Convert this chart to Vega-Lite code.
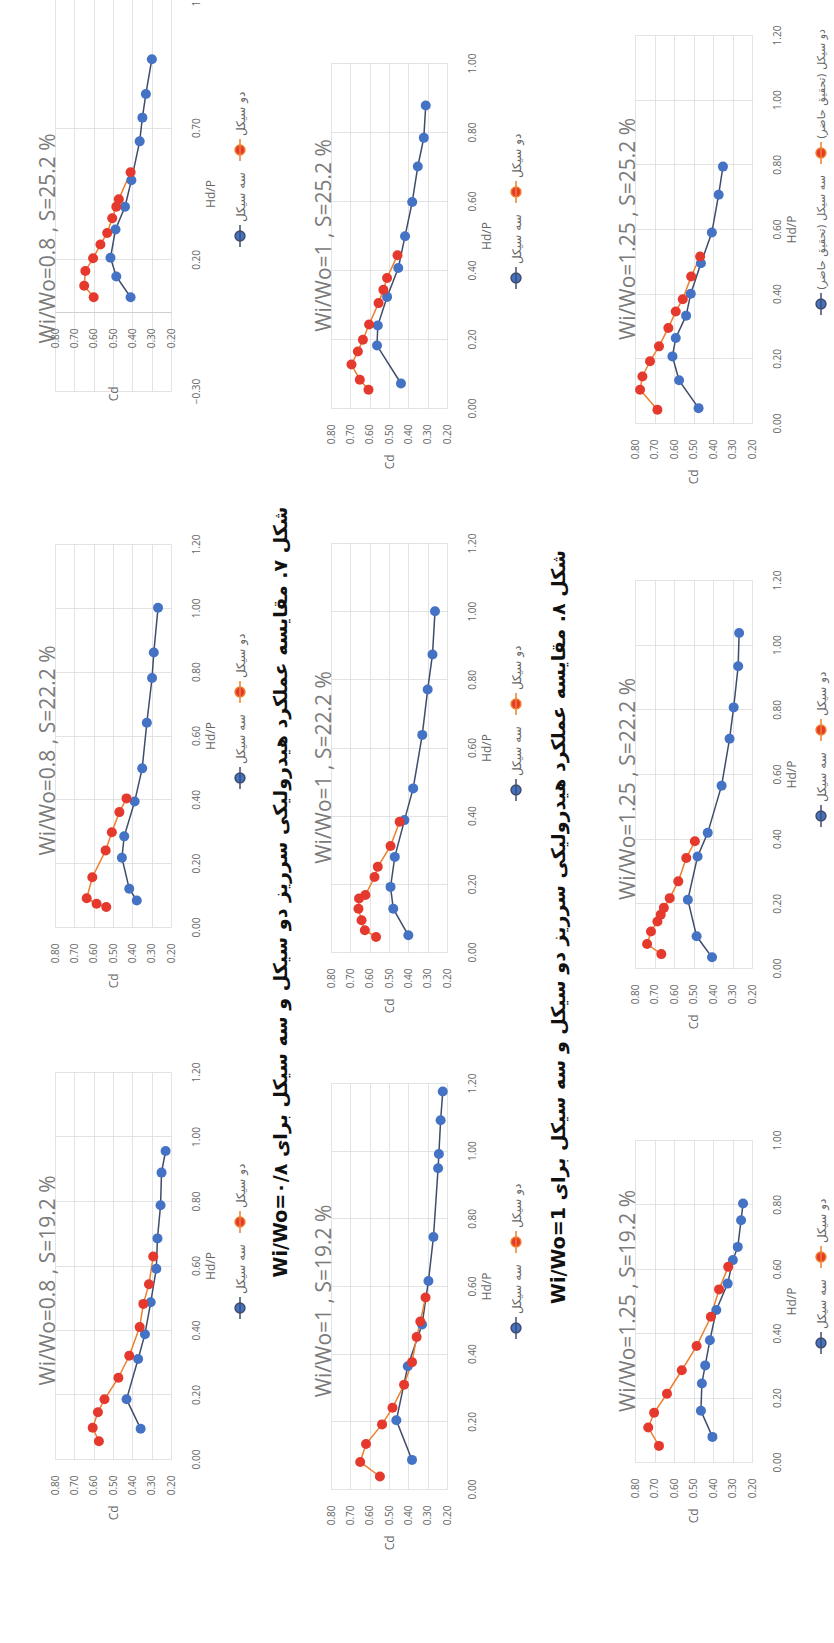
{
  "$schema": "https://vega.github.io/schema/vega-lite/v6.json",
  "background": "white",
  "padding": {"left": 37, "top": -14, "right": 10, "bottom": 0},
  "spacing": 0,
  "resolve": {"scale": {"fill": "independent"}, "legend": {"fill": "independent"}},
  "datasets": {
    "A1": [
      {"s": "سه سیکل", "hp": 0.056, "cd": 0.409}, {"s": "سه سیکل", "hp": 0.135, "cd": 0.483}, {"s": "سه سیکل", "hp": 0.206, "cd": 0.513}, {"s": "سه سیکل", "hp": 0.313, "cd": 0.487}, {"s": "سه سیکل", "hp": 0.40, "cd": 0.438}, {"s": "سه سیکل", "hp": 0.50, "cd": 0.405}, {"s": "سه سیکل", "hp": 0.648, "cd": 0.362}, {"s": "سه سیکل", "hp": 0.738, "cd": 0.348}, {"s": "سه سیکل", "hp": 0.828, "cd": 0.330}, {"s": "سه سیکل", "hp": 0.96, "cd": 0.299},
      {"s": "دو سیکل", "hp": 0.056, "cd": 0.60}, {"s": "دو سیکل", "hp": 0.10, "cd": 0.649}, {"s": "دو سیکل", "hp": 0.156, "cd": 0.643}, {"s": "دو سیکل", "hp": 0.204, "cd": 0.603}, {"s": "دو سیکل", "hp": 0.256, "cd": 0.565}, {"s": "دو سیکل", "hp": 0.30, "cd": 0.53}, {"s": "دو سیکل", "hp": 0.356, "cd": 0.504}, {"s": "دو سیکل", "hp": 0.40, "cd": 0.483}, {"s": "دو سیکل", "hp": 0.428, "cd": 0.47}, {"s": "دو سیکل", "hp": 0.531, "cd": 0.409}
    ],
    "A2": [
      {"s": "سه سیکل", "hp": 0.083, "cd": 0.377}, {"s": "سه سیکل", "hp": 0.12, "cd": 0.416}, {"s": "سه سیکل", "hp": 0.217, "cd": 0.454}, {"s": "سه سیکل", "hp": 0.284, "cd": 0.442}, {"s": "سه سیکل", "hp": 0.393, "cd": 0.388}, {"s": "سه سیکل", "hp": 0.497, "cd": 0.349}, {"s": "سه سیکل", "hp": 0.64, "cd": 0.325}, {"s": "سه سیکل", "hp": 0.78, "cd": 0.298}, {"s": "سه سیکل", "hp": 0.86, "cd": 0.289}, {"s": "سه سیکل", "hp": 1.0, "cd": 0.267},
      {"s": "دو سیکل", "hp": 0.0625, "cd": 0.535}, {"s": "دو سیکل", "hp": 0.073, "cd": 0.585}, {"s": "دو سیکل", "hp": 0.09, "cd": 0.636}, {"s": "دو سیکل", "hp": 0.156, "cd": 0.607}, {"s": "دو سیکل", "hp": 0.24, "cd": 0.538}, {"s": "دو سیکل", "hp": 0.297, "cd": 0.506}, {"s": "دو سیکل", "hp": 0.36, "cd": 0.467}, {"s": "دو سیکل", "hp": 0.403, "cd": 0.43}
    ],
    "A3": [
      {"s": "سه سیکل", "hp": 0.094, "cd": 0.357}, {"s": "سه سیکل", "hp": 0.185, "cd": 0.43}, {"s": "سه سیکل", "hp": 0.31, "cd": 0.37}, {"s": "سه سیکل", "hp": 0.387, "cd": 0.335}, {"s": "سه سیکل", "hp": 0.486, "cd": 0.305}, {"s": "سه سیکل", "hp": 0.59, "cd": 0.276}, {"s": "سه سیکل", "hp": 0.684, "cd": 0.27}, {"s": "سه سیکل", "hp": 0.787, "cd": 0.254}, {"s": "سه سیکل", "hp": 0.888, "cd": 0.249}, {"s": "سه سیکل", "hp": 0.955, "cd": 0.228},
      {"s": "دو سیکل", "hp": 0.055, "cd": 0.573}, {"s": "دو سیکل", "hp": 0.097, "cd": 0.605}, {"s": "دو سیکل", "hp": 0.145, "cd": 0.578}, {"s": "دو سیکل", "hp": 0.185, "cd": 0.544}, {"s": "دو سیکل", "hp": 0.252, "cd": 0.472}, {"s": "دو سیکل", "hp": 0.32, "cd": 0.416}, {"s": "دو سیکل", "hp": 0.409, "cd": 0.362}, {"s": "دو سیکل", "hp": 0.481, "cd": 0.343}, {"s": "دو سیکل", "hp": 0.542, "cd": 0.314}, {"s": "دو سیکل", "hp": 0.628, "cd": 0.292}
    ],
    "B1": [
      {"s": "سه سیکل", "hp": 0.071, "cd": 0.438}, {"s": "سه سیکل", "hp": 0.181, "cd": 0.562}, {"s": "سه سیکل", "hp": 0.239, "cd": 0.558}, {"s": "سه سیکل", "hp": 0.322, "cd": 0.51}, {"s": "سه سیکل", "hp": 0.406, "cd": 0.452}, {"s": "سه سیکل", "hp": 0.498, "cd": 0.417}, {"s": "سه سیکل", "hp": 0.597, "cd": 0.38}, {"s": "سه سیکل", "hp": 0.70, "cd": 0.351}, {"s": "سه سیکل", "hp": 0.783, "cd": 0.32}, {"s": "سه سیکل", "hp": 0.877, "cd": 0.31},
      {"s": "دو سیکل", "hp": 0.053, "cd": 0.606}, {"s": "دو سیکل", "hp": 0.082, "cd": 0.651}, {"s": "دو سیکل", "hp": 0.126, "cd": 0.694}, {"s": "دو سیکل", "hp": 0.164, "cd": 0.661}, {"s": "دو سیکل", "hp": 0.198, "cd": 0.635}, {"s": "دو سیکل", "hp": 0.242, "cd": 0.603}, {"s": "دو سیکل", "hp": 0.304, "cd": 0.554}, {"s": "دو سیکل", "hp": 0.343, "cd": 0.529}, {"s": "دو سیکل", "hp": 0.377, "cd": 0.51}, {"s": "دو سیکل", "hp": 0.443, "cd": 0.456}
    ],
    "B2": [
      {"s": "سه سیکل", "hp": 0.049, "cd": 0.40}, {"s": "سه سیکل", "hp": 0.127, "cd": 0.478}, {"s": "سه سیکل", "hp": 0.191, "cd": 0.492}, {"s": "سه سیکل", "hp": 0.279, "cd": 0.47}, {"s": "سه سیکل", "hp": 0.387, "cd": 0.42}, {"s": "سه سیکل", "hp": 0.48, "cd": 0.375}, {"s": "سه سیکل", "hp": 0.637, "cd": 0.328}, {"s": "سه سیکل", "hp": 0.77, "cd": 0.30}, {"s": "سه سیکل", "hp": 0.873, "cd": 0.275}, {"s": "سه سیکل", "hp": 1.0, "cd": 0.262},
      {"s": "دو سیکل", "hp": 0.044, "cd": 0.567}, {"s": "دو سیکل", "hp": 0.064, "cd": 0.625}, {"s": "دو سیکل", "hp": 0.093, "cd": 0.642}, {"s": "دو سیکل", "hp": 0.127, "cd": 0.658}, {"s": "دو سیکل", "hp": 0.157, "cd": 0.655}, {"s": "دو سیکل", "hp": 0.167, "cd": 0.622}, {"s": "دو سیکل", "hp": 0.22, "cd": 0.575}, {"s": "دو سیکل", "hp": 0.25, "cd": 0.558}, {"s": "دو سیکل", "hp": 0.311, "cd": 0.492}, {"s": "دو سیکل", "hp": 0.382, "cd": 0.445}
    ],
    "B3": [
      {"s": "سه سیکل", "hp": 0.086, "cd": 0.381}, {"s": "سه سیکل", "hp": 0.203, "cd": 0.462}, {"s": "سه سیکل", "hp": 0.363, "cd": 0.403}, {"s": "سه سیکل", "hp": 0.486, "cd": 0.329}, {"s": "سه سیکل", "hp": 0.615, "cd": 0.296}, {"s": "سه سیکل", "hp": 0.745, "cd": 0.27}, {"s": "سه سیکل", "hp": 0.948, "cd": 0.246}, {"s": "سه سیکل", "hp": 0.99, "cd": 0.242}, {"s": "سه سیکل", "hp": 1.09, "cd": 0.233}, {"s": "سه سیکل", "hp": 1.175, "cd": 0.222},
      {"s": "دو سیکل", "hp": 0.037, "cd": 0.547}, {"s": "دو سیکل", "hp": 0.08, "cd": 0.649}, {"s": "دو سیکل", "hp": 0.133, "cd": 0.619}, {"s": "دو سیکل", "hp": 0.191, "cd": 0.536}, {"s": "دو سیکل", "hp": 0.24, "cd": 0.482}, {"s": "دو سیکل", "hp": 0.308, "cd": 0.422}, {"s": "دو سیکل", "hp": 0.375, "cd": 0.381}, {"s": "دو سیکل", "hp": 0.449, "cd": 0.357}, {"s": "دو سیکل", "hp": 0.495, "cd": 0.338}, {"s": "دو سیکل", "hp": 0.566, "cd": 0.311}
    ],
    "C1": [
      {"s": "سه سیکل (تحقیق حاضر)", "hp": 0.046, "cd": 0.474}, {"s": "سه سیکل (تحقیق حاضر)", "hp": 0.132, "cd": 0.574}, {"s": "سه سیکل (تحقیق حاضر)", "hp": 0.206, "cd": 0.608}, {"s": "سه سیکل (تحقیق حاضر)", "hp": 0.263, "cd": 0.591}, {"s": "سه سیکل (تحقیق حاضر)", "hp": 0.332, "cd": 0.538}, {"s": "سه سیکل (تحقیق حاضر)", "hp": 0.40, "cd": 0.514}, {"s": "سه سیکل (تحقیق حاضر)", "hp": 0.494, "cd": 0.462}, {"s": "سه سیکل (تحقیق حاضر)", "hp": 0.589, "cd": 0.406}, {"s": "سه سیکل (تحقیق حاضر)", "hp": 0.706, "cd": 0.371}, {"s": "سه سیکل (تحقیق حاضر)", "hp": 0.793, "cd": 0.349},
      {"s": "دو سیکل (تحقیق حاضر)", "hp": 0.041, "cd": 0.685}, {"s": "دو سیکل (تحقیق حاضر)", "hp": 0.103, "cd": 0.774}, {"s": "دو سیکل (تحقیق حاضر)", "hp": 0.144, "cd": 0.762}, {"s": "دو سیکل (تحقیق حاضر)", "hp": 0.191, "cd": 0.723}, {"s": "دو سیکل (تحقیق حاضر)", "hp": 0.237, "cd": 0.677}, {"s": "دو سیکل (تحقیق حاضر)", "hp": 0.294, "cd": 0.629}, {"s": "دو سیکل (تحقیق حاضر)", "hp": 0.345, "cd": 0.591}, {"s": "دو سیکل (تحقیق حاضر)", "hp": 0.383, "cd": 0.555}, {"s": "دو سیکل (تحقیق حاضر)", "hp": 0.453, "cd": 0.512}, {"s": "دو سیکل (تحقیق حاضر)", "hp": 0.515, "cd": 0.466}
    ],
    "C2": [
      {"s": "سه سیکل", "hp": 0.033, "cd": 0.405}, {"s": "سه سیکل", "hp": 0.098, "cd": 0.484}, {"s": "سه سیکل", "hp": 0.211, "cd": 0.529}, {"s": "سه سیکل", "hp": 0.345, "cd": 0.479}, {"s": "سه سیکل", "hp": 0.418, "cd": 0.427}, {"s": "سه سیکل", "hp": 0.564, "cd": 0.356}, {"s": "سه سیکل", "hp": 0.709, "cd": 0.315}, {"s": "سه سیکل", "hp": 0.806, "cd": 0.294}, {"s": "سه سیکل", "hp": 0.933, "cd": 0.271}, {"s": "سه سیکل", "hp": 1.036, "cd": 0.266},
      {"s": "دو سیکل", "hp": 0.043, "cd": 0.665}, {"s": "دو سیکل", "hp": 0.074, "cd": 0.738}, {"s": "دو سیکل", "hp": 0.113, "cd": 0.718}, {"s": "دو سیکل", "hp": 0.144, "cd": 0.685}, {"s": "دو سیکل", "hp": 0.165, "cd": 0.668}, {"s": "دو سیکل", "hp": 0.186, "cd": 0.652}, {"s": "دو سیکل", "hp": 0.216, "cd": 0.622}, {"s": "دو سیکل", "hp": 0.268, "cd": 0.578}, {"s": "دو سیکل", "hp": 0.34, "cd": 0.537}, {"s": "دو سیکل", "hp": 0.392, "cd": 0.493}
    ],
    "C3": [
      {"s": "سه سیکل", "hp": 0.078, "cd": 0.403}, {"s": "سه سیکل", "hp": 0.159, "cd": 0.462}, {"s": "سه سیکل", "hp": 0.244, "cd": 0.457}, {"s": "سه سیکل", "hp": 0.30, "cd": 0.44}, {"s": "سه سیکل", "hp": 0.378, "cd": 0.416}, {"s": "سه سیکل", "hp": 0.472, "cd": 0.383}, {"s": "سه سیکل", "hp": 0.554, "cd": 0.325}, {"s": "سه سیکل", "hp": 0.627, "cd": 0.298}, {"s": "سه سیکل", "hp": 0.668, "cd": 0.273}, {"s": "سه سیکل", "hp": 0.751, "cd": 0.256}, {"s": "سه سیکل", "hp": 0.803, "cd": 0.246},
      {"s": "دو سیکل", "hp": 0.05, "cd": 0.677}, {"s": "دو سیکل", "hp": 0.107, "cd": 0.732}, {"s": "دو سیکل", "hp": 0.153, "cd": 0.702}, {"s": "دو سیکل", "hp": 0.212, "cd": 0.636}, {"s": "دو سیکل", "hp": 0.285, "cd": 0.56}, {"s": "دو سیکل", "hp": 0.36, "cd": 0.484}, {"s": "دو سیکل", "hp": 0.451, "cd": 0.411}, {"s": "دو سیکل", "hp": 0.536, "cd": 0.369}, {"s": "دو سیکل", "hp": 0.606, "cd": 0.322}
    ]
  },
  "hconcat": [
    {
      "bounds": "flush", "spacing": 0,
      "resolve": {"scale": {"fill": "independent"}, "legend": {"fill": "independent"}},
      "vconcat": [
        {
          "width": 116, "height": 395, "data": {"name": "A1"},
          "title": {"text": "Wi/Wo=0.8 , S=25.2 %", "dx": -45},
          "encoding": {
            "x": {"field": "cd", "type": "quantitative", "scale": {"domain": [0.2, 0.8], "reverse": true, "nice": false, "zero": false}, "axis": {"values": [0.2, 0.3, 0.4, 0.5, 0.6, 0.7, 0.8], "format": ".2f", "title": "Cd", "offset": -79, "titlePadding": 38, "domain": true, "domainColor": "#d0d0d0"}},
            "y": {"field": "hp", "type": "quantitative", "scale": {"domain": [-0.3, 1.2], "nice": false, "zero": false}, "axis": {"orient": "right", "values": [-0.3, 0.2, 0.7, 1.2], "format": ".2f", "title": "Hd/P"}}
          },
          "layer": [
            {"transform": [{"filter": {"field": "s", "oneOf": ["سه سیکل", "سه سیکل (تحقیق حاضر)"]}}], "mark": {"type": "line", "color": "#3F4C6B"}, "encoding": {"order": {"field": "hp", "type": "quantitative"}}},
            {"transform": [{"filter": {"field": "s", "oneOf": ["دو سیکل", "دو سیکل (تحقیق حاضر)"]}}], "mark": {"type": "line", "color": "#EE7F2D"}, "encoding": {"order": {"field": "hp", "type": "quantitative"}}},
            {"mark": "point", "encoding": {"fill": {"field": "s", "type": "nominal", "scale": {"domain": ["دو سیکل", "سه سیکل"], "range": ["#E5392E", "#4472C4"]}, "legend": {"title": null, "orient": "right", "direction": "vertical", "offset": 12, "symbolType": "M0,-1L0,1M0.45,0A0.45,0.45,0,1,1,-0.45,0A0.45,0.45,0,1,1,0.45,0", "symbolSize": 480, "symbolStrokeWidth": 1.5, "labelFont": "DejaVu Sans", "labelFontSize": 12, "labelColor": "#666666", "labelOffset": -11, "rowPadding": 8, "encoding": {"labels": {"angle": {"value": -90}, "align": {"value": "left"}, "baseline": {"value": "middle"}, "dx": {"value": 14}}, "symbols": {"stroke": {"condition": {"test": "datum.value === 'دو سیکل' || datum.value === 'دو سیکل (تحقیق حاضر)'", "value": "#EE7F2D"}, "value": "#3F4C6B"}}}}}}}
          ]
        },
        {"width": 1, "height": 153, "data": {"values": []}, "mark": "point", "encoding": {}},
        {
          "width": 116, "height": 383, "data": {"name": "A2"},
          "title": {"text": "Wi/Wo=0.8 , S=22.2 %", "dx": -15},
          "encoding": {
            "x": {"field": "cd", "type": "quantitative", "scale": {"domain": [0.2, 0.8], "reverse": true, "nice": false, "zero": false}, "axis": {"values": [0.2, 0.3, 0.4, 0.5, 0.6, 0.7, 0.8], "format": ".2f", "title": "Cd"}},
            "y": {"field": "hp", "type": "quantitative", "scale": {"domain": [0, 1.2], "nice": false, "zero": false}, "axis": {"orient": "right", "values": [0, 0.2, 0.4, 0.6, 0.8, 1.0, 1.2], "format": ".2f", "title": "Hd/P"}}
          },
          "layer": [
            {"transform": [{"filter": {"field": "s", "oneOf": ["سه سیکل", "سه سیکل (تحقیق حاضر)"]}}], "mark": {"type": "line", "color": "#3F4C6B"}, "encoding": {"order": {"field": "hp", "type": "quantitative"}}},
            {"transform": [{"filter": {"field": "s", "oneOf": ["دو سیکل", "دو سیکل (تحقیق حاضر)"]}}], "mark": {"type": "line", "color": "#EE7F2D"}, "encoding": {"order": {"field": "hp", "type": "quantitative"}}},
            {"mark": "point", "encoding": {"fill": {"field": "s", "type": "nominal", "scale": {"domain": ["دو سیکل", "سه سیکل"], "range": ["#E5392E", "#4472C4"]}, "legend": {"title": null, "orient": "right", "direction": "vertical", "offset": 12, "symbolType": "M0,-1L0,1M0.45,0A0.45,0.45,0,1,1,-0.45,0A0.45,0.45,0,1,1,0.45,0", "symbolSize": 480, "symbolStrokeWidth": 1.5, "labelFont": "DejaVu Sans", "labelFontSize": 12, "labelColor": "#666666", "labelOffset": -11, "rowPadding": 8, "encoding": {"labels": {"angle": {"value": -90}, "align": {"value": "left"}, "baseline": {"value": "middle"}, "dx": {"value": 14}}, "symbols": {"stroke": {"condition": {"test": "datum.value === 'دو سیکل' || datum.value === 'دو سیکل (تحقیق حاضر)'", "value": "#EE7F2D"}, "value": "#3F4C6B"}}}}}}}
          ]
        },
        {"width": 1, "height": 145, "data": {"values": []}, "mark": "point", "encoding": {}},
        {
          "width": 116, "height": 387, "data": {"name": "A3"},
          "title": {"text": "Wi/Wo=0.8 , S=19.2 %", "dx": -15},
          "encoding": {
            "x": {"field": "cd", "type": "quantitative", "scale": {"domain": [0.2, 0.8], "reverse": true, "nice": false, "zero": false}, "axis": {"values": [0.2, 0.3, 0.4, 0.5, 0.6, 0.7, 0.8], "format": ".2f", "title": "Cd"}},
            "y": {"field": "hp", "type": "quantitative", "scale": {"domain": [0, 1.2], "nice": false, "zero": false}, "axis": {"orient": "right", "values": [0, 0.2, 0.4, 0.6, 0.8, 1.0, 1.2], "format": ".2f", "title": "Hd/P"}}
          },
          "layer": [
            {"transform": [{"filter": {"field": "s", "oneOf": ["سه سیکل", "سه سیکل (تحقیق حاضر)"]}}], "mark": {"type": "line", "color": "#3F4C6B"}, "encoding": {"order": {"field": "hp", "type": "quantitative"}}},
            {"transform": [{"filter": {"field": "s", "oneOf": ["دو سیکل", "دو سیکل (تحقیق حاضر)"]}}], "mark": {"type": "line", "color": "#EE7F2D"}, "encoding": {"order": {"field": "hp", "type": "quantitative"}}},
            {"mark": "point", "encoding": {"fill": {"field": "s", "type": "nominal", "scale": {"domain": ["دو سیکل", "سه سیکل"], "range": ["#E5392E", "#4472C4"]}, "legend": {"title": null, "orient": "right", "direction": "vertical", "offset": 12, "symbolType": "M0,-1L0,1M0.45,0A0.45,0.45,0,1,1,-0.45,0A0.45,0.45,0,1,1,0.45,0", "symbolSize": 480, "symbolStrokeWidth": 1.5, "labelFont": "DejaVu Sans", "labelFontSize": 12, "labelColor": "#666666", "labelOffset": -11, "rowPadding": 8, "encoding": {"labels": {"angle": {"value": -90}, "align": {"value": "left"}, "baseline": {"value": "middle"}, "dx": {"value": 14}}, "symbols": {"stroke": {"condition": {"test": "datum.value === 'دو سیکل' || datum.value === 'دو سیکل (تحقیق حاضر)'", "value": "#EE7F2D"}, "value": "#3F4C6B"}}}}}}}
          ]
        }
      ]
    },
    {
      "width": 65, "height": 1792,
      "data": {"values": [{"t": "Wi/Wo=۰/۸ شکل ۷. مقایسه عملکرد هیدرولیکی سرریز دو سیکل و سه سیکل برای"}]},
      "mark": {"type": "text", "angle": -90, "font": "DejaVu Sans", "fontSize": 19, "fontWeight": "bold", "color": "#111111"},
      "encoding": {"text": {"field": "t", "type": "nominal"}}
    },
    {
      "bounds": "flush", "spacing": 0,
      "resolve": {"scale": {"fill": "independent"}, "legend": {"fill": "independent"}},
      "vconcat": [
        {"width": 1, "height": 67, "data": {"values": []}, "mark": "point", "encoding": {}},
        {
          "width": 116, "height": 345, "data": {"name": "B1"},
          "title": {"text": "Wi/Wo=1 , S=25.2 %"},
          "encoding": {
            "x": {"field": "cd", "type": "quantitative", "scale": {"domain": [0.2, 0.8], "reverse": true, "nice": false, "zero": false}, "axis": {"values": [0.2, 0.3, 0.4, 0.5, 0.6, 0.7, 0.8], "format": ".2f", "title": "Cd"}},
            "y": {"field": "hp", "type": "quantitative", "scale": {"domain": [0, 1.0], "nice": false, "zero": false}, "axis": {"orient": "right", "values": [0, 0.2, 0.4, 0.6, 0.8, 1.0], "format": ".2f", "title": "Hd/P"}}
          },
          "layer": [
            {"transform": [{"filter": {"field": "s", "oneOf": ["سه سیکل", "سه سیکل (تحقیق حاضر)"]}}], "mark": {"type": "line", "color": "#3F4C6B"}, "encoding": {"order": {"field": "hp", "type": "quantitative"}}},
            {"transform": [{"filter": {"field": "s", "oneOf": ["دو سیکل", "دو سیکل (تحقیق حاضر)"]}}], "mark": {"type": "line", "color": "#EE7F2D"}, "encoding": {"order": {"field": "hp", "type": "quantitative"}}},
            {"mark": "point", "encoding": {"fill": {"field": "s", "type": "nominal", "scale": {"domain": ["دو سیکل", "سه سیکل"], "range": ["#E5392E", "#4472C4"]}, "legend": {"title": null, "orient": "right", "direction": "vertical", "offset": 12, "symbolType": "M0,-1L0,1M0.45,0A0.45,0.45,0,1,1,-0.45,0A0.45,0.45,0,1,1,0.45,0", "symbolSize": 480, "symbolStrokeWidth": 1.5, "labelFont": "DejaVu Sans", "labelFontSize": 12, "labelColor": "#666666", "labelOffset": -11, "rowPadding": 8, "encoding": {"labels": {"angle": {"value": -90}, "align": {"value": "left"}, "baseline": {"value": "middle"}, "dx": {"value": 14}}, "symbols": {"stroke": {"condition": {"test": "datum.value === 'دو سیکل' || datum.value === 'دو سیکل (تحقیق حاضر)'", "value": "#EE7F2D"}, "value": "#3F4C6B"}}}}}}}
          ]
        },
        {"width": 1, "height": 135, "data": {"values": []}, "mark": "point", "encoding": {}},
        {
          "width": 116, "height": 409, "data": {"name": "B2"},
          "title": {"text": "Wi/Wo=1 , S=22.2 %", "dx": -20},
          "encoding": {
            "x": {"field": "cd", "type": "quantitative", "scale": {"domain": [0.2, 0.8], "reverse": true, "nice": false, "zero": false}, "axis": {"values": [0.2, 0.3, 0.4, 0.5, 0.6, 0.7, 0.8], "format": ".2f", "title": "Cd"}},
            "y": {"field": "hp", "type": "quantitative", "scale": {"domain": [0, 1.2], "nice": false, "zero": false}, "axis": {"orient": "right", "values": [0, 0.2, 0.4, 0.6, 0.8, 1.0, 1.2], "format": ".2f", "title": "Hd/P"}}
          },
          "layer": [
            {"transform": [{"filter": {"field": "s", "oneOf": ["سه سیکل", "سه سیکل (تحقیق حاضر)"]}}], "mark": {"type": "line", "color": "#3F4C6B"}, "encoding": {"order": {"field": "hp", "type": "quantitative"}}},
            {"transform": [{"filter": {"field": "s", "oneOf": ["دو سیکل", "دو سیکل (تحقیق حاضر)"]}}], "mark": {"type": "line", "color": "#EE7F2D"}, "encoding": {"order": {"field": "hp", "type": "quantitative"}}},
            {"mark": "point", "encoding": {"fill": {"field": "s", "type": "nominal", "scale": {"domain": ["دو سیکل", "سه سیکل"], "range": ["#E5392E", "#4472C4"]}, "legend": {"title": null, "orient": "right", "direction": "vertical", "offset": 12, "symbolType": "M0,-1L0,1M0.45,0A0.45,0.45,0,1,1,-0.45,0A0.45,0.45,0,1,1,0.45,0", "symbolSize": 480, "symbolStrokeWidth": 1.5, "labelFont": "DejaVu Sans", "labelFontSize": 12, "labelColor": "#666666", "labelOffset": -11, "rowPadding": 8, "encoding": {"labels": {"angle": {"value": -90}, "align": {"value": "left"}, "baseline": {"value": "middle"}, "dx": {"value": 14}}, "symbols": {"stroke": {"condition": {"test": "datum.value === 'دو سیکل' || datum.value === 'دو سیکل (تحقیق حاضر)'", "value": "#EE7F2D"}, "value": "#3F4C6B"}}}}}}}
          ]
        },
        {"width": 1, "height": 131, "data": {"values": []}, "mark": "point", "encoding": {}},
        {
          "width": 116, "height": 406, "data": {"name": "B3"},
          "title": {"text": "Wi/Wo=1 , S=19.2 %", "dx": -15},
          "encoding": {
            "x": {"field": "cd", "type": "quantitative", "scale": {"domain": [0.2, 0.8], "reverse": true, "nice": false, "zero": false}, "axis": {"values": [0.2, 0.3, 0.4, 0.5, 0.6, 0.7, 0.8], "format": ".2f", "title": "Cd"}},
            "y": {"field": "hp", "type": "quantitative", "scale": {"domain": [0, 1.2], "nice": false, "zero": false}, "axis": {"orient": "right", "values": [0, 0.2, 0.4, 0.6, 0.8, 1.0, 1.2], "format": ".2f", "title": "Hd/P"}}
          },
          "layer": [
            {"transform": [{"filter": {"field": "s", "oneOf": ["سه سیکل", "سه سیکل (تحقیق حاضر)"]}}], "mark": {"type": "line", "color": "#3F4C6B"}, "encoding": {"order": {"field": "hp", "type": "quantitative"}}},
            {"transform": [{"filter": {"field": "s", "oneOf": ["دو سیکل", "دو سیکل (تحقیق حاضر)"]}}], "mark": {"type": "line", "color": "#EE7F2D"}, "encoding": {"order": {"field": "hp", "type": "quantitative"}}},
            {"mark": "point", "encoding": {"fill": {"field": "s", "type": "nominal", "scale": {"domain": ["دو سیکل", "سه سیکل"], "range": ["#E5392E", "#4472C4"]}, "legend": {"title": null, "orient": "right", "direction": "vertical", "offset": 12, "symbolType": "M0,-1L0,1M0.45,0A0.45,0.45,0,1,1,-0.45,0A0.45,0.45,0,1,1,0.45,0", "symbolSize": 480, "symbolStrokeWidth": 1.5, "labelFont": "DejaVu Sans", "labelFontSize": 12, "labelColor": "#666666", "labelOffset": -11, "rowPadding": 8, "encoding": {"labels": {"angle": {"value": -90}, "align": {"value": "left"}, "baseline": {"value": "middle"}, "dx": {"value": 14}}, "symbols": {"stroke": {"condition": {"test": "datum.value === 'دو سیکل' || datum.value === 'دو سیکل (تحقیق حاضر)'", "value": "#EE7F2D"}, "value": "#3F4C6B"}}}}}}}
          ]
        }
      ]
    },
    {
      "width": 93, "height": 1862,
      "data": {"values": [{"t": "Wi/Wo=1 شکل ۸. مقایسه عملکرد هیدرولیکی سرریز دو سیکل و سه سیکل برای"}]},
      "mark": {"type": "text", "angle": -90, "dy": -12, "font": "DejaVu Sans", "fontSize": 19, "fontWeight": "bold", "color": "#111111"},
      "encoding": {"text": {"field": "t", "type": "nominal"}}
    },
    {
      "bounds": "flush", "spacing": 0,
      "resolve": {"scale": {"fill": "independent"}, "legend": {"fill": "independent"}},
      "vconcat": [
        {"width": 1, "height": 39, "data": {"values": []}, "mark": "point", "encoding": {}},
        {
          "width": 117, "height": 388, "data": {"name": "C1"},
          "title": {"text": "Wi/Wo=1.25 , S=25.2 %"},
          "encoding": {
            "x": {"field": "cd", "type": "quantitative", "scale": {"domain": [0.2, 0.8], "reverse": true, "nice": false, "zero": false}, "axis": {"values": [0.2, 0.3, 0.4, 0.5, 0.6, 0.7, 0.8], "format": ".2f", "title": "Cd"}},
            "y": {"field": "hp", "type": "quantitative", "scale": {"domain": [0, 1.2], "nice": false, "zero": false}, "axis": {"orient": "right", "values": [0, 0.2, 0.4, 0.6, 0.8, 1.0, 1.2], "format": ".2f", "title": "Hd/P"}}
          },
          "layer": [
            {"transform": [{"filter": {"field": "s", "oneOf": ["سه سیکل", "سه سیکل (تحقیق حاضر)"]}}], "mark": {"type": "line", "color": "#3F4C6B"}, "encoding": {"order": {"field": "hp", "type": "quantitative"}}},
            {"transform": [{"filter": {"field": "s", "oneOf": ["دو سیکل", "دو سیکل (تحقیق حاضر)"]}}], "mark": {"type": "line", "color": "#EE7F2D"}, "encoding": {"order": {"field": "hp", "type": "quantitative"}}},
            {"mark": "point", "encoding": {"fill": {"field": "s", "type": "nominal", "scale": {"domain": ["دو سیکل (تحقیق حاضر)", "سه سیکل (تحقیق حاضر)"], "range": ["#E5392E", "#4472C4"]}, "legend": {"title": null, "orient": "right", "direction": "vertical", "offset": 12, "symbolType": "M0,-1L0,1M0.45,0A0.45,0.45,0,1,1,-0.45,0A0.45,0.45,0,1,1,0.45,0", "symbolSize": 480, "symbolStrokeWidth": 1.5, "labelFont": "DejaVu Sans", "labelFontSize": 11, "labelColor": "#666666", "labelOffset": -11, "rowPadding": 8, "encoding": {"labels": {"angle": {"value": -90}, "align": {"value": "left"}, "baseline": {"value": "middle"}, "dx": {"value": 14}}, "symbols": {"stroke": {"condition": {"test": "datum.value === 'دو سیکل' || datum.value === 'دو سیکل (تحقیق حاضر)'", "value": "#EE7F2D"}, "value": "#3F4C6B"}}}}}}}
          ]
        },
        {"width": 1, "height": 157, "data": {"values": []}, "mark": "point", "encoding": {}},
        {
          "width": 117, "height": 388, "data": {"name": "C2"},
          "title": {"text": "Wi/Wo=1.25 , S=22.2 %", "dx": -15},
          "encoding": {
            "x": {"field": "cd", "type": "quantitative", "scale": {"domain": [0.2, 0.8], "reverse": true, "nice": false, "zero": false}, "axis": {"values": [0.2, 0.3, 0.4, 0.5, 0.6, 0.7, 0.8], "format": ".2f", "title": "Cd"}},
            "y": {"field": "hp", "type": "quantitative", "scale": {"domain": [0, 1.2], "nice": false, "zero": false}, "axis": {"orient": "right", "values": [0, 0.2, 0.4, 0.6, 0.8, 1.0, 1.2], "format": ".2f", "title": "Hd/P"}}
          },
          "layer": [
            {"transform": [{"filter": {"field": "s", "oneOf": ["سه سیکل", "سه سیکل (تحقیق حاضر)"]}}], "mark": {"type": "line", "color": "#3F4C6B"}, "encoding": {"order": {"field": "hp", "type": "quantitative"}}},
            {"transform": [{"filter": {"field": "s", "oneOf": ["دو سیکل", "دو سیکل (تحقیق حاضر)"]}}], "mark": {"type": "line", "color": "#EE7F2D"}, "encoding": {"order": {"field": "hp", "type": "quantitative"}}},
            {"mark": "point", "encoding": {"fill": {"field": "s", "type": "nominal", "scale": {"domain": ["دو سیکل", "سه سیکل"], "range": ["#E5392E", "#4472C4"]}, "legend": {"title": null, "orient": "right", "direction": "vertical", "offset": 12, "symbolType": "M0,-1L0,1M0.45,0A0.45,0.45,0,1,1,-0.45,0A0.45,0.45,0,1,1,0.45,0", "symbolSize": 480, "symbolStrokeWidth": 1.5, "labelFont": "DejaVu Sans", "labelFontSize": 12, "labelColor": "#666666", "labelOffset": -11, "rowPadding": 8, "encoding": {"labels": {"angle": {"value": -90}, "align": {"value": "left"}, "baseline": {"value": "middle"}, "dx": {"value": 14}}, "symbols": {"stroke": {"condition": {"test": "datum.value === 'دو سیکل' || datum.value === 'دو سیکل (تحقیق حاضر)'", "value": "#EE7F2D"}, "value": "#3F4C6B"}}}}}}}
          ]
        },
        {"width": 1, "height": 172, "data": {"values": []}, "mark": "point", "encoding": {}},
        {
          "width": 117, "height": 322, "data": {"name": "C3"},
          "title": {"text": "Wi/Wo=1.25 , S=19.2 %"},
          "encoding": {
            "x": {"field": "cd", "type": "quantitative", "scale": {"domain": [0.2, 0.8], "reverse": true, "nice": false, "zero": false}, "axis": {"values": [0.2, 0.3, 0.4, 0.5, 0.6, 0.7, 0.8], "format": ".2f", "title": "Cd"}},
            "y": {"field": "hp", "type": "quantitative", "scale": {"domain": [0, 1.0], "nice": false, "zero": false}, "axis": {"orient": "right", "values": [0, 0.2, 0.4, 0.6, 0.8, 1.0], "format": ".2f", "title": "Hd/P"}}
          },
          "layer": [
            {"transform": [{"filter": {"field": "s", "oneOf": ["سه سیکل", "سه سیکل (تحقیق حاضر)"]}}], "mark": {"type": "line", "color": "#3F4C6B"}, "encoding": {"order": {"field": "hp", "type": "quantitative"}}},
            {"transform": [{"filter": {"field": "s", "oneOf": ["دو سیکل", "دو سیکل (تحقیق حاضر)"]}}], "mark": {"type": "line", "color": "#EE7F2D"}, "encoding": {"order": {"field": "hp", "type": "quantitative"}}},
            {"mark": "point", "encoding": {"fill": {"field": "s", "type": "nominal", "scale": {"domain": ["دو سیکل", "سه سیکل"], "range": ["#E5392E", "#4472C4"]}, "legend": {"title": null, "orient": "right", "direction": "vertical", "offset": 12, "symbolType": "M0,-1L0,1M0.45,0A0.45,0.45,0,1,1,-0.45,0A0.45,0.45,0,1,1,0.45,0", "symbolSize": 480, "symbolStrokeWidth": 1.5, "labelFont": "DejaVu Sans", "labelFontSize": 12, "labelColor": "#666666", "labelOffset": -11, "rowPadding": 8, "encoding": {"labels": {"angle": {"value": -90}, "align": {"value": "left"}, "baseline": {"value": "middle"}, "dx": {"value": 14}}, "symbols": {"stroke": {"condition": {"test": "datum.value === 'دو سیکل' || datum.value === 'دو سیکل (تحقیق حاضر)'", "value": "#EE7F2D"}, "value": "#3F4C6B"}}}}}}}
          ]
        }
      ]
    }
  ],
  "config": {
    "view": {"stroke": null},
    "font": "Open Sans",
    "axis": {"grid": true, "gridColor": "#dcdcdc", "gridWidth": 0.8, "domain": false, "ticks": false, "labelColor": "#666666", "labelFont": "Open Sans", "labelFontSize": 10, "labelFlush": false, "labelOverlap": false, "labelBound": false, "titleColor": "#666666", "titleFont": "Open Sans", "titleFontSize": 12, "titleFontWeight": "normal"},
    "axisX": {"labelAngle": -90, "labelAlign": "right", "labelBaseline": "middle", "labelPadding": 16, "titleAngle": -90, "titleAlign": "right", "titleBaseline": "middle", "titlePadding": 10},
    "axisY": {"labelAngle": -90, "labelAlign": "center", "labelBaseline": "top", "labelPadding": 20, "titleAngle": -90, "titleAlign": "center", "titleBaseline": "top", "titlePadding": 4},
    "title": {"orient": "left", "anchor": "middle", "offset": -9, "fontSize": 21, "fontWeight": "normal", "font": "Open Sans", "color": "#7a7a7a"},
    "point": {"filled": true, "size": 100, "opacity": 1},
    "line": {"strokeWidth": 1.5},
    "legend": {"layout": {"right": {"anchor": "middle"}}}
  }
}
